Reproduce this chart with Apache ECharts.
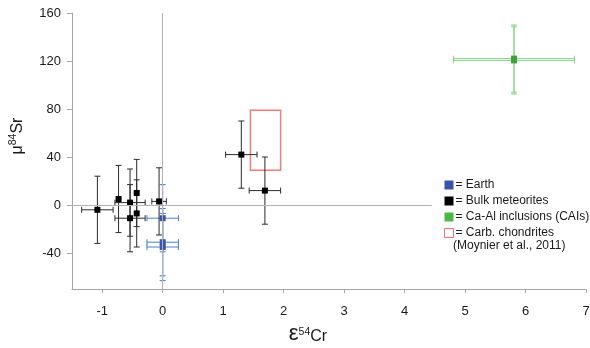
<!DOCTYPE html>
<html>
<head>
<meta charset="utf-8">
<script src="https://cdn.jsdelivr.net/npm/echarts@6/dist/echarts.min.js"></script>
<style>
html,body{margin:0;padding:0;background:#fff;}
#chart{width:590px;height:348px;}
</style>
</head>
<body>
<div id="chart"></div>
<script>
// ---- data ----
var xTicks = [-1, 0, 1, 2, 3, 4, 5, 6, 7];
var yTicks = [-40, 0, 40, 80, 120, 160];

var earthX    = [0, 0, 0];
var earthY    = [-11, -31, -35];
var earthXErr = [0.26, 0.26, 0.26];
var earthYErr = [28, 28, 28];

var bulkX    = [-1.08, -0.73, -0.54, -0.54, -0.43, -0.43, -0.06, 1.30, 1.69];
var bulkY    = [-4, 5, 2, -11, 10, -7, 3, 42, 12];
var bulkXErr = [0.26, 0, 0.25, 0.25, 0, 0, 0.12, 0.26, 0.26];
var bulkYErr = [28, 28, 28, 28, 28, 28, 28, 28, 28];

var caiX    = [5.81, 5.81];
var caiY    = [122, 120.5];
var caiXErr = [1.0, 1.0];
var caiYErr = [28, 28];

var ccX = [1.45, 1.95];   // carb. chondrites box (x range)
var ccY = [29, 79];       // carb. chondrites box (y range)

var refLineEndX = 4.45;   // end of the horizontal zero line

var legendNames = ['Earth', 'Bulk meteorites', 'Ca-Al inclusions (CAIs)', 'Carb. chondrites'];
var legendNote = '(Moynier et al., 2011)';

// ---- helpers ----
function pts(xs, ys) { return xs.map(function (x, i) { return [x, ys[i]]; }); }
function errPts(xs, ys, xe, ye) { return xs.map(function (x, i) { return [x, ys[i], xe[i], ye[i]]; }); }

function errRender(color) {
  return function (params, api) {
    var x = api.value(0), y = api.value(1), xe = api.value(2), ye = api.value(3);
    var st = { stroke: color, lineWidth: 1 };
    var cap = 3;
    var ch = [];
    var top = api.coord([x, y + ye]), bot = api.coord([x, y - ye]);
    ch.push({ type: 'line', shape: { x1: top[0], y1: top[1], x2: bot[0], y2: bot[1] }, style: st });
    ch.push({ type: 'line', shape: { x1: top[0] - cap, y1: top[1], x2: top[0] + cap, y2: top[1] }, style: st });
    ch.push({ type: 'line', shape: { x1: bot[0] - cap, y1: bot[1], x2: bot[0] + cap, y2: bot[1] }, style: st });
    if (xe > 0) {
      var l = api.coord([x - xe, y]), r = api.coord([x + xe, y]);
      ch.push({ type: 'line', shape: { x1: l[0], y1: l[1], x2: r[0], y2: r[1] }, style: st });
      ch.push({ type: 'line', shape: { x1: l[0], y1: l[1] - cap, x2: l[0], y2: l[1] + cap }, style: st });
      ch.push({ type: 'line', shape: { x1: r[0], y1: r[1] - cap, x2: r[0], y2: r[1] + cap }, style: st });
    }
    return { type: 'group', children: ch };
  };
}

var chart = echarts.init(document.getElementById('chart'), null, { renderer: 'canvas' });

var axisGray = '#a6a6a6';
var labelColor = '#1a1a1a';
var fontFam = '"Liberation Sans", Arial, sans-serif';

var option = {
  backgroundColor: '#fff',
  animation: false,
  textStyle: { fontFamily: fontFam },
  grid: { left: 72, right: 4, top: 13, bottom: 59, outerBoundsMode: 'none' },
  xAxis: {
    type: 'value', min: -1.5, max: 7,
    splitLine: { show: false },
    axisLine: { onZero: false, lineStyle: { color: axisGray } },
    axisTick: { show: true, length: 4, lineStyle: { color: axisGray }, customValues: xTicks },
    axisLabel: { color: labelColor, fontSize: 13, margin: 16, customValues: xTicks, fontFamily: fontFam },
    name: '{e|ε}{s|54}{b|Cr}',
    nameLocation: 'middle',
    nameGap: 36,
    nameTextStyle: {
      padding: [0, 42, 0, 0],
      rich: {
        e: { fontSize: 22, fontFamily: fontFam, color: labelColor, lineHeight: 20, verticalAlign: 'bottom' },
        s: { fontSize: 10.5, fontFamily: fontFam, color: labelColor, lineHeight: 20, verticalAlign: 'top', padding: [2, 0, 0, 0] },
        b: { fontSize: 16, fontFamily: fontFam, color: labelColor, lineHeight: 20, verticalAlign: 'bottom' }
      }
    }
  },
  yAxis: {
    type: 'value', min: -70, max: 160,
    splitLine: { show: false },
    axisLine: { show: true, onZero: false, lineStyle: { color: axisGray } },
    axisTick: { show: true, length: 5, lineStyle: { color: axisGray }, customValues: yTicks },
    axisLabel: { color: labelColor, fontSize: 13, margin: 11, customValues: yTicks, fontFamily: fontFam },
    name: '{m|μ}{s|84}{b|Sr}',
    nameLocation: 'middle',
    nameGap: 46,
    nameTextStyle: {
      padding: [0, 0, 0, 30],
      rich: {
        m: { fontSize: 16, fontFamily: fontFam, color: labelColor, lineHeight: 20, verticalAlign: 'bottom' },
        s: { fontSize: 10.5, fontFamily: fontFam, color: labelColor, lineHeight: 20, verticalAlign: 'top', padding: [2, 0, 0, 0] },
        b: { fontSize: 16, fontFamily: fontFam, color: labelColor, lineHeight: 20, verticalAlign: 'bottom' }
      }
    }
  },
  legend: {
    orient: 'vertical',
    left: 439, top: 172,
    itemWidth: 9, itemHeight: 9, itemGap: 0,
    selectedMode: false,
    formatter: function (n) { return '= ' + n; },
    textStyle: { fontSize: 12, color: labelColor, fontFamily: fontFam, lineHeight: 16, padding: [0, 0, 0, -3] },
    data: [
      { name: legendNames[0], icon: 'rect', itemStyle: { color: '#3b55a8' } },
      { name: legendNames[1], icon: 'rect', itemStyle: { color: '#000' } },
      { name: legendNames[2], icon: 'rect', itemStyle: { color: '#4cb848' } },
      { name: legendNames[3], icon: 'rect', itemStyle: { color: '#fff', borderColor: '#f07070', borderWidth: 1 } }
    ]
  },
  graphic: [{
    type: 'text', left: 453, top: 240,
    style: { text: legendNote, fontSize: 12, fill: labelColor, fontFamily: fontFam }
  }],
  series: [
    {
      name: legendNames[3],
      type: 'custom',
      silent: true,
      z: 1,
      renderItem: function (params, api) {
        var a = api.coord([api.value(0), api.value(3)]);
        var b = api.coord([api.value(1), api.value(2)]);
        return { type: 'rect', shape: { x: a[0], y: a[1], width: b[0] - a[0], height: b[1] - a[1] },
                 style: { fill: 'none', stroke: '#f27b7b', lineWidth: 1.5 } };
      },
      data: [[ccX[0], ccX[1], ccY[0], ccY[1]]],
      markLine: {
        silent: true, symbol: 'none', label: { show: false },
        lineStyle: { color: '#b3b3b3', width: 1, type: 'solid' },
        data: [
          [{ coord: [-1.5, 0] }, { coord: [refLineEndX, 0] }],
          [{ coord: [0, -70] }, { coord: [0, 160] }]
        ]
      }
    },
    { name: legendNames[0] + ' err', type: 'custom', silent: true, z: 2, renderItem: errRender('#4a7fc8'), data: errPts(earthX, earthY, earthXErr, earthYErr) },
    { name: legendNames[1] + ' err', type: 'custom', silent: true, z: 2, renderItem: errRender('#2b2b2b'), data: errPts(bulkX, bulkY, bulkXErr, bulkYErr) },
    { name: legendNames[2] + ' err', type: 'custom', silent: true, z: 2, renderItem: errRender('#86d486'), data: errPts(caiX, caiY, caiXErr, caiYErr) },
    { name: legendNames[0], type: 'scatter', symbol: 'rect', symbolSize: 6, z: 3, itemStyle: { color: '#3b55a8', opacity: 1 }, data: pts(earthX, earthY) },
    { name: legendNames[1], type: 'scatter', symbol: 'rect', symbolSize: 6, z: 3, itemStyle: { color: '#000', opacity: 1 }, data: pts(bulkX, bulkY) },
    { name: legendNames[2], type: 'scatter', symbol: 'rect', symbolSize: 6, z: 3, itemStyle: { color: '#3f9f3f', opacity: 1 }, data: pts(caiX, caiY) }
  ]
};
chart.setOption(option);
</script>
</body>
</html>
